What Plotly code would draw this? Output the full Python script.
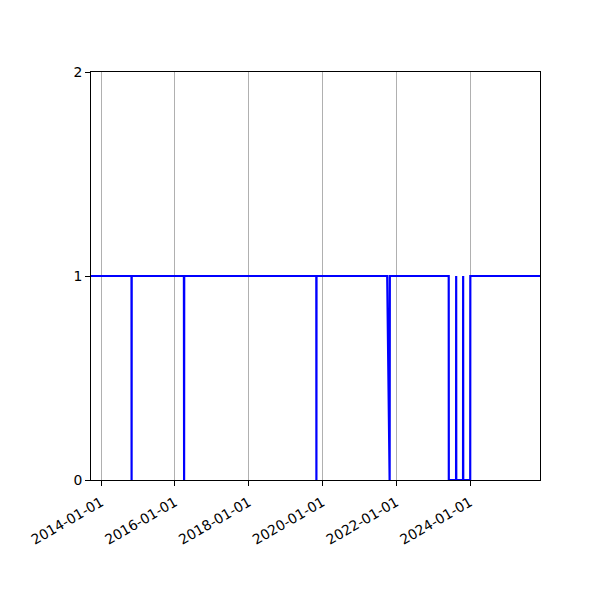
import plotly.graph_objects as go

dates = [
    "2013-09-22", "2014-10-28", "2014-10-29", "2014-10-30",
    "2016-03-30", "2016-03-31", "2016-04-01", "2016-04-02",
    "2019-11-01", "2019-11-02", "2019-11-03",
    "2021-10-03", "2021-10-27", "2021-10-29",
    "2023-06-04", "2023-06-05", "2023-08-16", "2023-08-17", "2023-08-18",
    "2023-10-24", "2023-10-25", "2023-10-26", "2024-01-03", "2024-01-04",
    "2025-11-24",
]
values = [
    1, 1, 0, 1,
    1, 0, 0, 1,
    1, 0, 1,
    1, 0, 1,
    1, 0, 0, 1, 0,
    0, 1, 0, 0, 1,
    1,
]
x_tick_vals = ["2014-01-01", "2016-01-01", "2018-01-01", "2020-01-01", "2022-01-01", "2024-01-01"]
x_tick_text = ["2014-01-01", "2016-01-01", "2018-01-01", "2020-01-01", "2022-01-01", "2024-01-01"]
y_tick_vals = [0, 1, 2]

fig = go.Figure()
fig.add_trace(go.Scatter(
    x=dates, y=values, mode="lines",
    line=dict(color="#0000ff", width=2.2),
    showlegend=False, hoverinfo="skip",
))

font = dict(family="DejaVu Sans", size=13.9, color="black")
fig.update_layout(
    width=600, height=600,
    margin=dict(l=83, r=68, t=64, b=128),
    paper_bgcolor="white", plot_bgcolor="white",
    font=font,
)
fig.update_xaxes(
    type="date", range=[dates[0], dates[-1]],
    tickmode="array", tickvals=x_tick_vals, ticktext=x_tick_text,
    tickangle=-30, ticks="outside", ticklen=5, tickcolor="black", tickwidth=1,
    ticklabelstandoff=3,
    showgrid=True, gridcolor="#b0b0b0", gridwidth=1,
    showline=True, linecolor="black", linewidth=1, mirror=True,
    zeroline=False, tickfont=font,
)
fig.update_yaxes(
    range=[0, 2], tickmode="array", tickvals=y_tick_vals,
    ticks="outside", ticklen=5, tickcolor="black", tickwidth=1,
    showgrid=False, zeroline=False,
    showline=True, linecolor="black", linewidth=1, mirror=True,
    tickfont=font,
)
fig.write_html("out.html")
